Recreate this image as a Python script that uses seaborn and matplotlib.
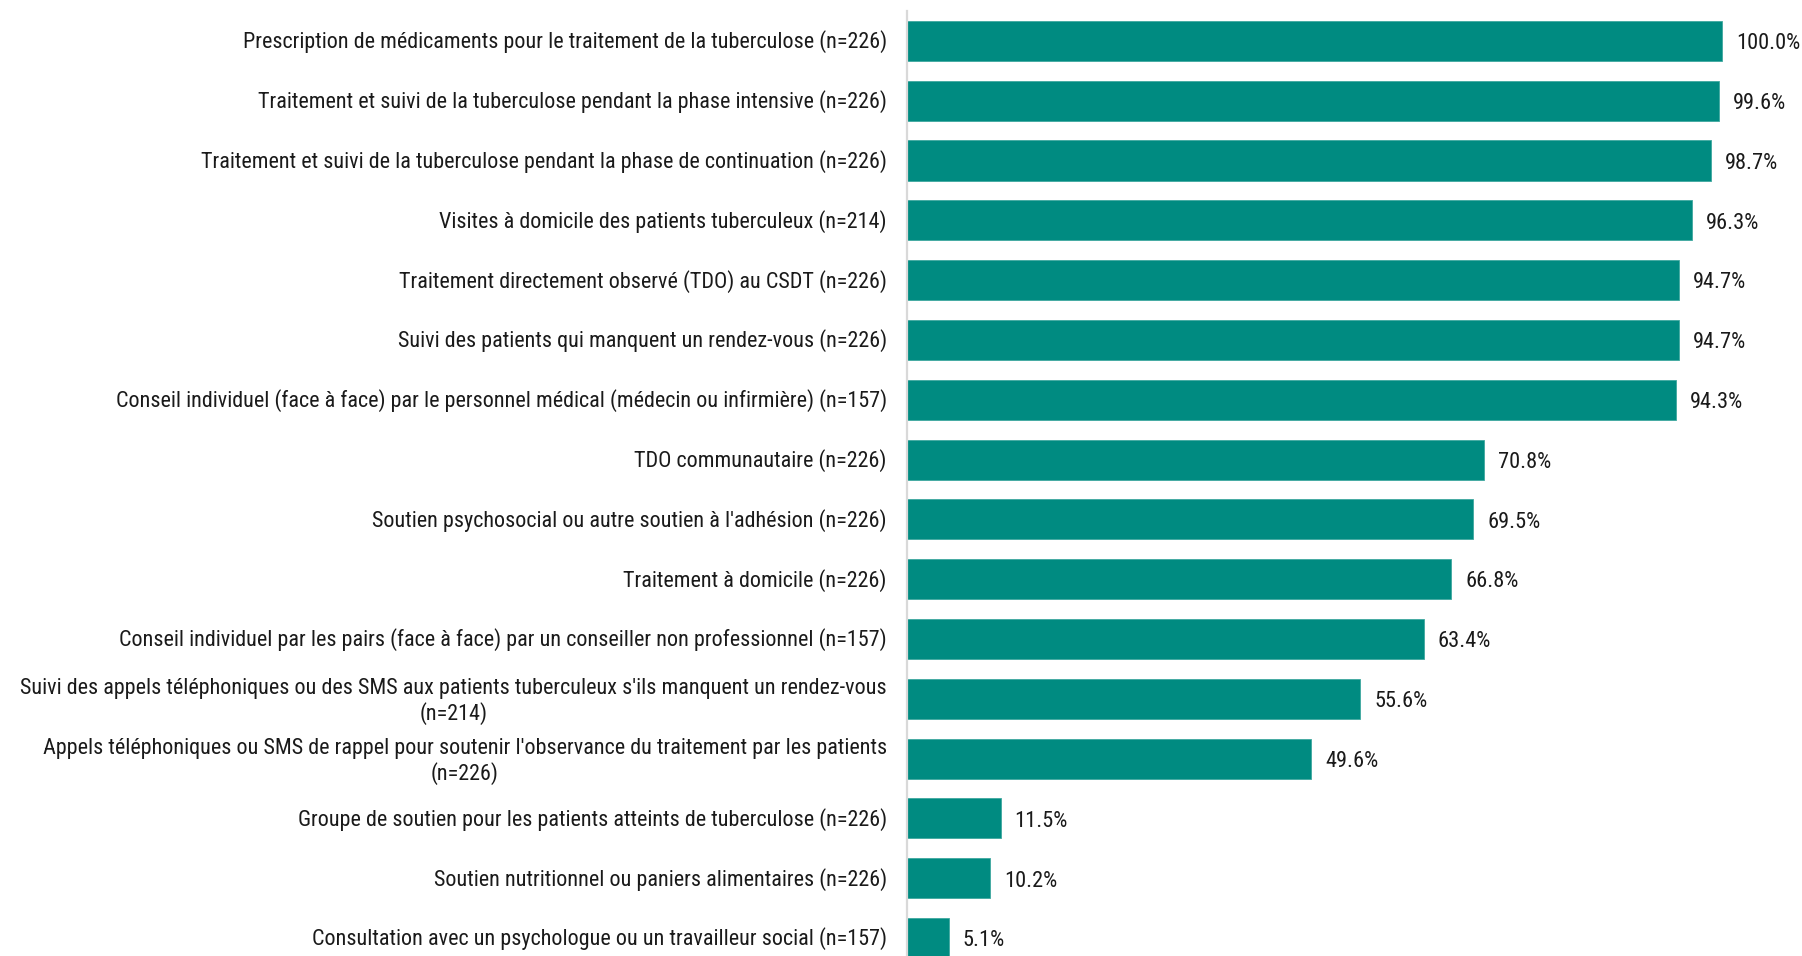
import matplotlib
matplotlib.use("Agg")
import matplotlib.pyplot as plt
from matplotlib import font_manager
from matplotlib.transforms import ScaledTranslation
import seaborn as sns
import pandas as pd

services = [
    "Prescription de médicaments pour le traitement de la tuberculose (n=226)",
    "Traitement et suivi de la tuberculose pendant la phase intensive (n=226)",
    "Traitement et suivi de la tuberculose pendant la phase de continuation (n=226)",
    "Visites à domicile des patients tuberculeux (n=214)",
    "Traitement directement observé (TDO) au CSDT (n=226)",
    "Suivi des patients qui manquent un rendez-vous (n=226)",
    "Conseil individuel (face à face) par le personnel médical (médecin ou infirmière) (n=157)",
    "TDO communautaire (n=226)",
    "Soutien psychosocial ou autre soutien à l'adhésion (n=226)",
    "Traitement à domicile (n=226)",
    "Conseil individuel par les pairs (face à face) par un conseiller non professionnel (n=157)",
    "Suivi des appels téléphoniques ou des SMS aux patients tuberculeux s'ils manquent un rendez-vous\n(n=214)",
    "Appels téléphoniques ou SMS de rappel pour soutenir l'observance du traitement par les patients\n(n=226)",
    "Groupe de soutien pour les patients atteints de tuberculose (n=226)",
    "Soutien nutritionnel ou paniers alimentaires (n=226)",
    "Consultation avec un psychologue ou un travailleur social (n=157)",
]
percentages = [100.0, 99.6, 98.7, 96.3, 94.7, 94.7, 94.3, 70.8, 69.5, 66.8,
               63.4, 55.6, 49.6, 11.5, 10.2, 5.1]

BAR_COLOR = "#008B81"
AXIS_COLOR = "#d9d9d9"
TEXT_COLOR = "#1a1a1a"

sns.set_theme(style="white")

# prefer a narrow sans face if one is installed (label size, value size)
installed = {f.name for f in font_manager.fontManager.ttflist}
narrow_choices = [("Liberation Sans Narrow", 17.4, 17.8),
                  ("Roboto Condensed", 15.9, 16.1)]
family, label_size, value_size = "Liberation Sans", 14.4, 14.6
for name, ls, vs in narrow_choices:
    if name in installed:
        family, label_size, value_size = name, ls, vs
        break
plt.rcParams["font.family"] = [family, "Liberation Sans", "DejaVu Sans"]

W, H, DPI = 1802, 956, 100
fig = plt.figure(figsize=(W / DPI, H / DPI), dpi=DPI)

# axes: left edge at the category axis line, running off the bottom of the figure
left_px, top_px, right_px = 907, 11, W
ax = fig.add_axes([left_px / W, 0, (right_px - left_px) / W, 1 - top_px / H])

df = pd.DataFrame({"service": services, "pct": percentages})
sns.barplot(data=df, y="service", x="pct", orient="h", color=BAR_COLOR,
            saturation=1, width=0.67, edgecolor="#3fa89f", linewidth=0.6, ax=ax)

px_per_pct = 8.15
ax.set_xlim(0, (right_px - left_px) / px_per_pct)
ax.set_ylim(15.3, -0.5)

value_pad = 10
for container in ax.containers:
    texts = ax.bar_label(container, labels=[f"{v:.1f}%" for v in percentages],
                         padding=value_pad, fontsize=value_size, color=TEXT_COLOR)
    for t in texts:
        # sit the value text slightly below the bar's centre line
        t.xyann = (value_pad, -2.0)

ax.set_xlabel("")
ax.set_ylabel("")
ax.set_xticks([])
ax.tick_params(axis="y", length=0, pad=14.5, labelsize=label_size, labelcolor=TEXT_COLOR)
label_shift = ScaledTranslation(0, 1.2 / 72, fig.dpi_scale_trans)
for lbl in ax.get_yticklabels():
    lbl.set_multialignment("center")
    lbl.set_linespacing(1.2)
    lbl.set_transform(lbl.get_transform() + label_shift)

for side in ("top", "right", "bottom"):
    ax.spines[side].set_visible(False)
ax.spines["left"].set_color(AXIS_COLOR)
ax.spines["left"].set_linewidth(1.6)

fig.savefig("out.png", dpi=DPI, facecolor="white")
